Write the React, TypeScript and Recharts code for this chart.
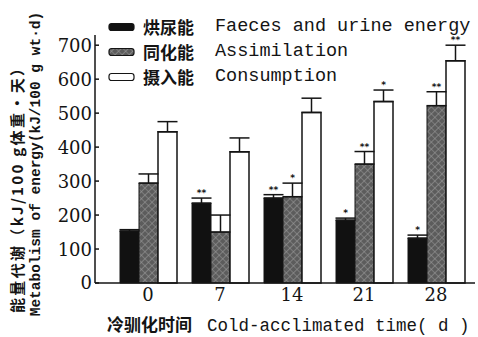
import React from 'react';
import { BarChart, Bar, XAxis, YAxis, ErrorBar, Legend, LabelList } from 'recharts';

const days = ['0', '7', '14', '21', '28'];
const faeces = [153, 235, 250, 185, 132];
const faecesErr = [4, 15, 10, 6, 9];
const assim = [294, 150, 254, 350, 522];
const assimErr = [27, 50, 40, 37, 41];
const consum = [445, 386, 502, 534, 654];
const consumErr = [30, 41, 42, 34, 46];
const faecesSig = ['', '**', '**', '*', '*'];
const assimSig = ['', '', '*', '**', '**'];
const consumSig = ['', '', '', '*', '**'];
const yTicks = [0, 100, 200, 300, 400, 500, 600, 700];

const seriesInfo = [
  { key: 'faeces', cn: '烘尿能', en: 'Faeces and urine energy', fill: '#111' },
  { key: 'assim', cn: '同化能', en: 'Assimilation', fill: 'url(#hatchPat)' },
  { key: 'consum', cn: '摄入能', en: 'Consumption', fill: '#fff' },
];

const data = days.map((d, i) => ({
  day: d,
  faeces: faeces[i],
  faecesErr: faecesErr[i],
  assim: assim[i],
  assimErr: assimErr[i],
  consum: consum[i],
  consumErr: consumErr[i],
}));

const INK = '#141414';
const MONO = '"Liberation Mono", "DejaVu Sans Mono", monospace';
const CJK = '"Noto Sans CJK SC", sans-serif';

const YTick = (props: any) => {
  const { x, y, payload } = props;
  return (
    <g>
      <line x1={x + 3} x2={x + 7} y1={y} y2={y} stroke={INK} strokeWidth={1.5} />
      <text x={x} y={y} dy="0.36em" textAnchor="end" fontFamily='"DejaVu Serif", serif' fontSize={18} fill={INK}>
        {payload.value}
      </text>
    </g>
  );
};

const XTick = (props: any) => {
  const { x, y, payload } = props;
  return (
    <text x={x} y={y} dy="0.71em" textAnchor="middle" fontFamily='"DejaVu Serif", serif' fontSize={18} fill={INK}>
      {payload.value}
    </text>
  );
};

const YTitle = () => (
  <g>
    <text
      transform="translate(18,187) rotate(-90)"
      textAnchor="middle"
      dy="0.36em"
      fontFamily={CJK}
      fontWeight="bold"
      fontSize={15}
      textLength={252}
      lengthAdjust="spacing"
      fill={INK}
    >
      能量代谢（kJ/100 g体重·天）
    </text>
    <text
      transform="translate(35,164) rotate(-90)"
      textAnchor="middle"
      dy="0.36em"
      fontFamily={MONO}
      fontWeight="bold"
      fontSize={14.5}
      fill={INK}
    >
      Metabolism of energy(kJ/100 g wt·d)
    </text>
  </g>
);

const XTitle = () => (
  <g>
    <text x={107} y={325} dy="0.36em" fontFamily={CJK} fontWeight="bold" fontSize={17} fill={INK}>
      冷驯化时间
    </text>
    <text x={207} y={325} dy="0.36em" fontFamily={MONO} fontSize={17.5} fill={INK}>
      Cold-acclimated time( d )
    </text>
  </g>
);

const LegendBox = () => (
  <div style={{ display: 'flex', flexDirection: 'column' }}>
    {seriesInfo.map((s) => (
      <div key={s.key} style={{ display: 'flex', alignItems: 'center', height: 25 }}>
        <svg width={28} height={10} style={{ marginRight: 7 }}>
          <rect x={1} y={1.5} width={25} height={7} rx={2.5} fill={s.fill} stroke={INK} strokeWidth={1.2} />
        </svg>
        <span style={{ fontFamily: CJK, fontWeight: 'bold', fontSize: 17, color: INK, width: 72, lineHeight: '18px' }}>
          {s.cn}
        </span>
        <span style={{ fontFamily: MONO, fontSize: 18.5, color: INK, lineHeight: '18px', whiteSpace: 'nowrap' }}>
          {s.en}
        </span>
      </div>
    ))}
  </div>
);

const makeStars = (values: number[], errs: number[], sig: string[]) => (props: any) => {
  const { x, y, width, height, index } = props;
  const s = sig[index];
  if (!s) return null;
  const ppu = height / values[index];
  const capY = y - errs[index] * ppu;
  return (
    <text
      x={x + width / 2}
      y={capY - 2}
      textAnchor="middle"
      fontFamily='"DejaVu Sans", sans-serif'
      fontWeight="bold"
      fontSize={9}
      fill={INK}
    >
      {s}
    </text>
  );
};

export default function App() {
  return (
    <div style={{ position: 'absolute', left: 0, top: 0, width: 478, height: 337, background: '#fff' }}>
      <svg width={0} height={0} style={{ position: 'absolute' }}>
        <defs>
          <pattern id="hatchPat" width={5} height={5} patternUnits="userSpaceOnUse" patternTransform="rotate(45)">
            <rect width={5} height={5} fill="#5c5c5c" />
            <path d="M0 0 L0 5 M0 0 L5 0" stroke="#9a9a9a" strokeWidth={1.2} />
          </pattern>
        </defs>
      </svg>
      <BarChart
        width={478}
        height={337}
        data={data}
        margin={{ top: 35, right: 3, left: 35, bottom: 0 }}
        barGap={0}
        barSize={19}
      >
        <XAxis
          dataKey="day"
          height={54}
          tickLine={false}
          tickSize={0}
          tickMargin={5}
          tick={<XTick />}
          padding={{ left: 17, right: 3 }}
          axisLine={{ stroke: INK, strokeWidth: 1.5 }}
          label={<XTitle />}
        />
        <YAxis
          width={60}
          domain={[0, 730]}
          ticks={yTicks}
          tickLine={false}
          tickSize={0}
          tickMargin={3}
          tick={<YTick />}
          axisLine={{ stroke: INK, strokeWidth: 1.5 }}
          label={<YTitle />}
        />
        <Legend
          layout="horizontal"
          verticalAlign="middle"
          align="center"
          content={<LegendBox />}
          wrapperStyle={{ left: 108, top: 14, width: 370 }}
        />
        <Bar dataKey="faeces" fill="#111" stroke={INK} strokeWidth={1} isAnimationActive={false}>
          <ErrorBar dataKey={(d: any) => [0, d.faecesErr]} width={10} stroke={INK} strokeWidth={1.5} />
          <LabelList dataKey="faeces" content={makeStars(faeces, faecesErr, faecesSig)} />
        </Bar>
        <Bar dataKey="assim" fill="url(#hatchPat)" stroke={INK} strokeWidth={1} isAnimationActive={false}>
          <ErrorBar dataKey={(d: any) => [0, d.assimErr]} width={10} stroke={INK} strokeWidth={1.5} />
          <LabelList dataKey="assim" content={makeStars(assim, assimErr, assimSig)} />
        </Bar>
        <Bar dataKey="consum" fill="#fff" stroke={INK} strokeWidth={1.5} isAnimationActive={false}>
          <ErrorBar dataKey={(d: any) => [0, d.consumErr]} width={10} stroke={INK} strokeWidth={1.5} />
          <LabelList dataKey="consum" content={makeStars(consum, consumErr, consumSig)} />
        </Bar>
      </BarChart>
    </div>
  );
}
